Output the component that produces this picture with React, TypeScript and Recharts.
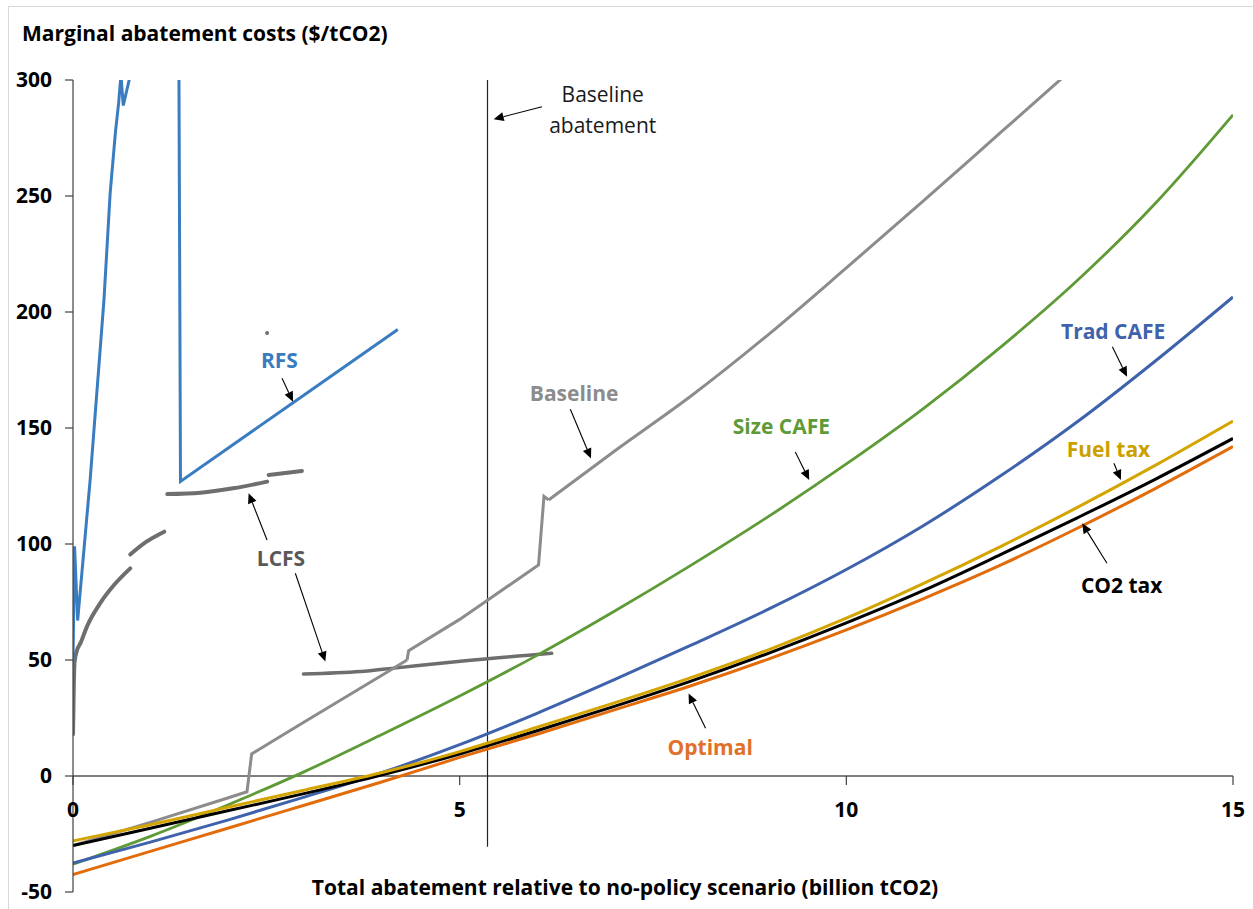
import React from 'react';
import { ComposedChart, Line, XAxis, YAxis, ReferenceLine, ReferenceDot } from 'recharts';

const FONT = "'Open Sans', Lato, 'DejaVu Sans', sans-serif";

// ---- data (x: billion tCO2, y: $/tCO2) ----
const abatementGrid = [0, 1, 2, 3, 4, 5, 6, 7, 8, 9, 10, 11, 12, 13, 14, 15];
const optimal = [-42.5, -32.5, -22.5, -12.5, -2.5, 8, 18, 28.5, 39, 50.5, 63, 76.5, 91, 107, 124, 142];
const co2Tax = [-30, -22.5, -15, -7.5, 0.5, 9.5, 19.5, 30, 41, 53, 66, 80, 95.5, 111.5, 128, 145.5];
const fuelTax = [-28, -21, -13.5, -6, 1.5, 10.5, 21, 31.5, 42.5, 54.5, 68, 83, 99, 116, 134, 153];
const tradCafe = [-37.5, -28.5, -19, -9, 1.5, 13.5, 27, 41.5, 56.5, 72, 89, 108, 129.5, 153, 179, 206.5];
const sizeCafe = [-38, -26, -12.5, 2, 18, 34.5, 52, 71, 91, 112, 134.5, 158.5, 185, 214, 247, 285];

const baselineLowX = [0, 1, 2, 2.25, 2.31, 3, 4, 4.32];
const baselineLowY = [-30, -20, -9.5, -6.8, 9.5, 23.5, 43.5, 50];
const baselineMidX = [4.32, 4.34, 5, 5.35, 6.02, 6.09, 6.15];
const baselineMidY = [50, 54, 67.5, 75.5, 91, 120.5, 119];
const baselineHighX = [6.15, 7, 8, 9, 10, 11, 12, 13];
const baselineHighY = [119, 140, 164, 190.5, 219, 248, 277.5, 307];

const rfsLowX = [0, 0.02, 0.06, 0.22, 0.4, 0.48, 0.55, 0.59, 0.62, 0.65, 0.74];
const rfsLowY = [50, 99, 67, 127, 205, 251, 278, 290, 302, 289, 302];
const rfsHighX = [1.37, 1.39, 2.85, 4.2];
const rfsHighY = [302, 127, 161, 192.5];

const lcfsAX = [0, 0.01, 0.02, 0.05, 0.1, 0.18, 0.35, 0.53, 0.74];
const lcfsAY = [18, 38, 49, 54, 57.5, 64.4, 74.4, 82.3, 89.5];
const lcfsBX = [0.74, 0.95, 1.18];
const lcfsBY = [95.5, 101, 105.3];
const lcfsCX = [1.22, 1.65, 2.07, 2.51];
const lcfsCY = [121.5, 122.1, 124, 126.9];
const lcfsDX = [2.53, 2.96];
const lcfsDY = [129.7, 131.5];
const lcfsEX = [2.98, 3.72, 4.15, 5.01, 6.19];
const lcfsEY = [44, 45, 46.5, 49.5, 52.9];
const lcfsStrayX = 2.51;
const lcfsStrayY = 191;

const baselineAbatement = 5.36;
const xTicks = [0, 5, 10, 15];
const yTicks = [-50, 0, 50, 100, 150, 200, 250, 300];

const pts = (xs: number[], ys: number[]) => xs.map((x, i) => ({ x, y: ys[i] }));

// ---- annotations (data coordinates) ----
const seriesLabels = [
  { text: 'RFS', x: 2.67, y: 179.3, color: '#3A7CC0' },
  { text: 'LCFS', x: 2.69, y: 94, color: '#595959' },
  { text: 'Baseline', x: 6.48, y: 165.1, color: '#8C8C8C' },
  { text: 'Size CAFE', x: 9.16, y: 150.9, color: '#5E9A36' },
  { text: 'Trad CAFE', x: 13.45, y: 191.8, color: '#3E62AB' },
  { text: 'Fuel tax', x: 13.39, y: 141, color: '#C9A000' },
  { text: 'CO2 tax', x: 13.56, y: 82.3, color: '#000000' },
  { text: 'Optimal', x: 8.24, y: 12.5, color: '#E0702A' },
];
const noteLines = [
  { text: 'Baseline', x: 6.85, y: 294 },
  { text: 'abatement', x: 6.85, y: 280.6 },
];
const arrows = [
  { from: [2.703, 171.4], to: [2.845, 161.3] },
  { from: [2.509, 101.7], to: [2.271, 121.9] },
  { from: [2.875, 87.4], to: [3.263, 49.3] },
  { from: [6.431, 158.1], to: [6.698, 136.9] },
  { from: [9.34, 139.7], to: [9.52, 127.6] },
  { from: [13.44, 185], to: [13.63, 172.1] },
  { from: [13.46, 134.8], to: [13.55, 127.6] },
  { from: [13.37, 91.7], to: [13.05, 108.9] },
  { from: [8.18, 20.6], to: [7.96, 35.6] },
  { from: [6.065, 288.5], to: [5.44, 283.1] },
];

const ArrowShape = (p: any) => {
  const { x1, y1, x2, y2 } = p;
  const dx = x2 - x1;
  const dy = y2 - y1;
  const len = Math.hypot(dx, dy) || 1;
  const ux = dx / len;
  const uy = dy / len;
  const hl = 10;
  const hw = 4.5;
  const bx = x2 - ux * hl;
  const by = y2 - uy * hl;
  const poly = `${x2},${y2} ${bx - uy * hw},${by + ux * hw} ${bx + uy * hw},${by - ux * hw}`;
  return (
    <g>
      <line x1={x1} y1={y1} x2={bx} y2={by} stroke="#000" strokeWidth={1.1} />
      <polygon points={poly} fill="#000" />
    </g>
  );
};

const lineCommon = { dataKey: 'y', dot: false, activeDot: false, isAnimationActive: false } as const;
const GRAY = '#8C8C8C';
const LCFS_GRAY = '#6E6E6E';

export default function App() {
  return (
    <div style={{ position: 'absolute', left: 0, top: 0, width: 1253, height: 909, background: '#fff', fontFamily: FONT }}>
      <div style={{ position: 'absolute', left: 8, top: 6, width: 1245, height: 903, borderLeft: '1px solid #D9D9D9', borderTop: '1px solid #D9D9D9' }} />
      <div style={{ position: 'absolute', left: 22, top: 19, fontSize: 21, fontWeight: 700, color: '#000', whiteSpace: 'nowrap', lineHeight: '28px' }}>
        Marginal abatement costs ($/tCO2)
      </div>
      <div style={{ position: 'absolute', left: 625, top: 873, transform: 'translateX(-50%)', fontSize: 21, fontWeight: 700, color: '#000', whiteSpace: 'nowrap', lineHeight: '28px' }}>
        Total abatement relative to no-policy scenario (billion tCO2)
      </div>
      <div style={{ position: 'absolute', left: 0, top: 0 }}>
        <ComposedChart width={1253} height={909} margin={{ top: 80, right: 20, bottom: 17, left: 0 }}>
          <XAxis type="number" dataKey="x" domain={[0, 15]} hide allowDataOverflow />
          <YAxis
            type="number"
            domain={[-50, 300]}
            ticks={yTicks}
            interval={0}
            allowDataOverflow
            width={73}
            tickSize={8}
            tickMargin={13}
            axisLine={{ stroke: '#404040', strokeWidth: 1.2 }}
            tickLine={{ stroke: '#404040', strokeWidth: 1.2 }}
            tick={{ fill: '#000', fontSize: 21, fontWeight: 700, fontFamily: FONT }}
          />
          <ReferenceLine y={0} stroke="#000" strokeWidth={1.2} />
          {xTicks.map((t) => (
            <ReferenceDot
              key={'xt' + t}
              x={t}
              y={0}
              r={0}
              shape={(p: any) => (
                <g>
                  <line x1={p.cx} y1={p.cy} x2={p.cx} y2={p.cy + 9} stroke="#404040" strokeWidth={1.2} />
                  <text x={p.cx} y={p.cy + 33} textAnchor="middle" dominantBaseline="central" fontSize={21} fontWeight={700} fontFamily={FONT} fill="#000">
                    {t}
                  </text>
                </g>
              )}
            />
          ))}
          <ReferenceLine
            segment={[{ x: baselineAbatement, y: -30.5 }, { x: baselineAbatement, y: 300 }]}
            stroke="#222"
            strokeWidth={1.2}
          />

          <Line {...lineCommon} data={pts(lcfsAX, lcfsAY)} type="monotone" stroke={LCFS_GRAY} strokeWidth={4} strokeLinecap="round" />
          <Line {...lineCommon} data={pts(lcfsBX, lcfsBY)} type="monotone" stroke={LCFS_GRAY} strokeWidth={4} strokeLinecap="round" />
          <Line {...lineCommon} data={pts(lcfsCX, lcfsCY)} type="monotone" stroke={LCFS_GRAY} strokeWidth={4} strokeLinecap="round" />
          <Line {...lineCommon} data={pts(lcfsDX, lcfsDY)} type="linear" stroke={LCFS_GRAY} strokeWidth={4} strokeLinecap="round" />
          <Line {...lineCommon} data={pts(lcfsEX, lcfsEY)} type="monotone" stroke={LCFS_GRAY} strokeWidth={3.5} strokeLinecap="round" />
          <ReferenceDot x={lcfsStrayX} y={lcfsStrayY} r={2} fill={LCFS_GRAY} stroke="none" />

          <Line {...lineCommon} data={pts(rfsLowX, rfsLowY)} type="linear" stroke="#3A7CC0" strokeWidth={3} />
          <Line {...lineCommon} data={pts(rfsHighX, rfsHighY)} type="linear" stroke="#3A7CC0" strokeWidth={3} />

          <Line {...lineCommon} data={pts(baselineLowX, baselineLowY)} type="linear" stroke={GRAY} strokeWidth={3} />
          <Line {...lineCommon} data={pts(baselineMidX, baselineMidY)} type="linear" stroke={GRAY} strokeWidth={3} />
          <Line {...lineCommon} data={pts(baselineHighX, baselineHighY)} type="monotone" stroke={GRAY} strokeWidth={3} />
          <Line {...lineCommon} data={pts(abatementGrid, sizeCafe)} type="monotone" stroke="#5E9A36" strokeWidth={2.8} />
          <Line {...lineCommon} data={pts(abatementGrid, tradCafe)} type="monotone" stroke="#3E62AB" strokeWidth={3} />
          <Line {...lineCommon} data={pts(abatementGrid, optimal)} type="monotone" stroke="#E26B0A" strokeWidth={3} />
          <Line {...lineCommon} data={pts(abatementGrid, co2Tax)} type="monotone" stroke="#000000" strokeWidth={3} />
          <Line {...lineCommon} data={pts(abatementGrid, fuelTax)} type="monotone" stroke="#D4A500" strokeWidth={3} />

          {arrows.map((a, i) => (
            <ReferenceLine
              key={'ar' + i}
              segment={[{ x: a.from[0], y: a.from[1] }, { x: a.to[0], y: a.to[1] }]}
              shape={ArrowShape}
            />
          ))}
          {seriesLabels.map((l) => (
            <ReferenceDot
              key={'lb' + l.text}
              x={l.x}
              y={l.y}
              r={0}
              shape={(p: any) => (
                <text x={p.cx} y={p.cy} textAnchor="middle" dominantBaseline="central" fontSize={21} fontWeight={700} fontFamily={FONT} fill={l.color}>
                  {l.text}
                </text>
              )}
            />
          ))}
          {noteLines.map((l) => (
            <ReferenceDot
              key={'nt' + l.text}
              x={l.x}
              y={l.y}
              r={0}
              shape={(p: any) => (
                <text x={p.cx} y={p.cy} textAnchor="middle" dominantBaseline="central" fontSize={21} fontWeight={400} fontFamily={FONT} fill="#1a1a1a">
                  {l.text}
                </text>
              )}
            />
          ))}
        </ComposedChart>
      </div>
    </div>
  );
}
